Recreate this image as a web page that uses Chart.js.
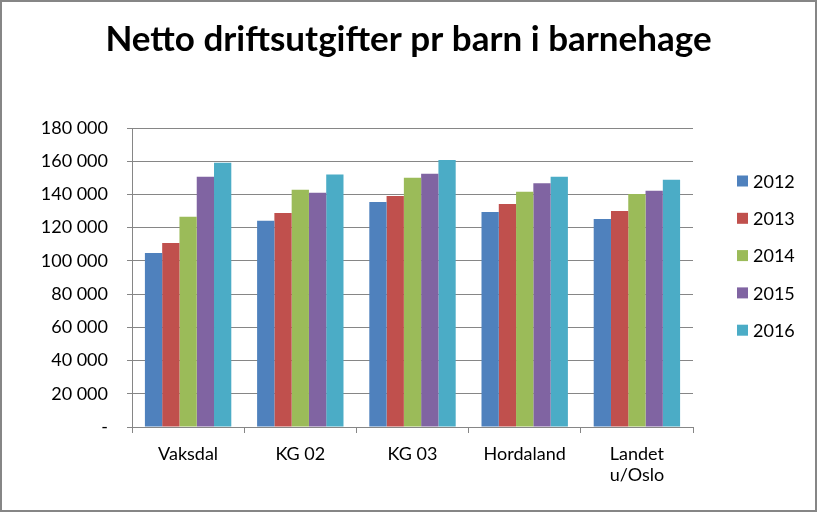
<!DOCTYPE html>
<html>
<head>
<meta charset="utf-8">
<script src="https://cdn.jsdelivr.net/npm/chart.js@4.4.1/dist/chart.umd.min.js"></script>
<style>
  html, body { margin: 0; padding: 0; background: #fff; }
  #wrap { width: 817px; height: 512px; position: relative; }
</style>
</head>
<body>
<div id="wrap"><canvas id="c" width="817" height="512"></canvas></div>
<script>
const title = 'Netto driftsutgifter pr barn i barnehage';
const categories = ['Vaksdal', 'KG 02', 'KG 03', 'Hordaland', ['Landet', 'u/Oslo']];
const years = ['2012', '2013', '2014', '2015', '2016'];
const v2012 = [104800, 124100, 135500, 129500, 125200];
const v2013 = [110800, 128900, 139100, 134300, 130000];
const v2014 = [126500, 142800, 150000, 141600, 140300];
const v2015 = [150600, 141000, 152500, 146700, 142200];
const v2016 = [159100, 152000, 160800, 150600, 148900];
const colors = ['#4F81BD', '#C0504D', '#9BBB59', '#8064A2', '#4BACC6'];
const yTicks = [0, 20000, 40000, 60000, 80000, 100000, 120000, 140000, 160000, 180000];

const FONT = 'Lato, "Open Sans", sans-serif';
const series = [v2012, v2013, v2014, v2015, v2016];

const frame = {
  id: 'frame',
  afterDraw(chart) {
    const ctx = chart.ctx;
    ctx.save();
    ctx.strokeStyle = '#868686';
    ctx.lineWidth = 2;
    ctx.strokeRect(1, 1, 815, 510);
    ctx.restore();
  }
};

const sideLegend = {
  id: 'sideLegend',
  afterDraw(chart) {
    const ctx = chart.ctx;
    ctx.save();
    ctx.font = '18px ' + FONT;
    ctx.textBaseline = 'middle';
    ctx.textAlign = 'left';
    const ds = chart.data.datasets;
    const step = 37.3;
    const y0 = 181;
    ds.forEach((d, i) => {
      const y = y0 + i * step;
      ctx.fillStyle = d.backgroundColor;
      ctx.fillRect(737, y - 5.5, 11, 11);
      ctx.fillStyle = '#000';
      ctx.fillText(d.label, 753, y + 1);
    });
    ctx.restore();
  }
};

function fmt(v) {
  if (v === 0) return '-';
  return String(v).replace(/\B(?=(\d{3})+(?!\d))/g, ' ');
}

new Chart(document.getElementById('c'), {
  type: 'bar',
  data: {
    labels: categories,
    datasets: years.map((y, i) => ({
      label: y,
      data: series[i],
      backgroundColor: colors[i],
      borderWidth: 0,
      barPercentage: 1.0,
      categoryPercentage: 0.77
    }))
  },
  options: {
    responsive: false,
    animation: false,
    devicePixelRatio: 1,
    layout: { padding: { left: 0, right: 0, top: 0, bottom: 0 } },
    plugins: {
      legend: { display: false },
      tooltip: { enabled: false },
      title: {
        display: true,
        text: title,
        color: '#000',
        font: { family: FONT, size: 35, weight: 'bold' },
        padding: { top: 19, bottom: 67 }
      }
    },
    scales: {
      x: {
        grid: {
          drawOnChartArea: false,
          drawTicks: true,
          tickLength: 6,
          color: '#868686',
          offset: true
        },
        border: { color: '#868686', width: 1 },
        ticks: {
          color: '#000',
          font: { family: FONT, size: 18 },
          padding: 10,
          maxRotation: 0,
          autoSkip: false
        },
        afterFit(scale) { scale.height = 85; }
      },
      y: {
        min: 0,
        max: 180000,
        afterBuildTicks(scale) { scale.ticks = yTicks.map(v => ({ value: v })); },
        grid: {
          color: '#868686',
          tickLength: 5,
          drawTicks: true
        },
        border: { color: '#868686', width: 1 },
        ticks: {
          color: '#000',
          font: { family: FONT, size: 18 },
          padding: 19,
          callback: (v) => fmt(v)
        },
        afterFit(scale) { scale.width = 132; }
      },
      legendSpace: {
        position: 'right',
        grid: { display: false },
        border: { display: false },
        ticks: { display: false },
        afterFit(scale) { scale.width = 124; }
      }
    }
  },
  plugins: [frame, sideLegend]
});
</script>
</body>
</html>
